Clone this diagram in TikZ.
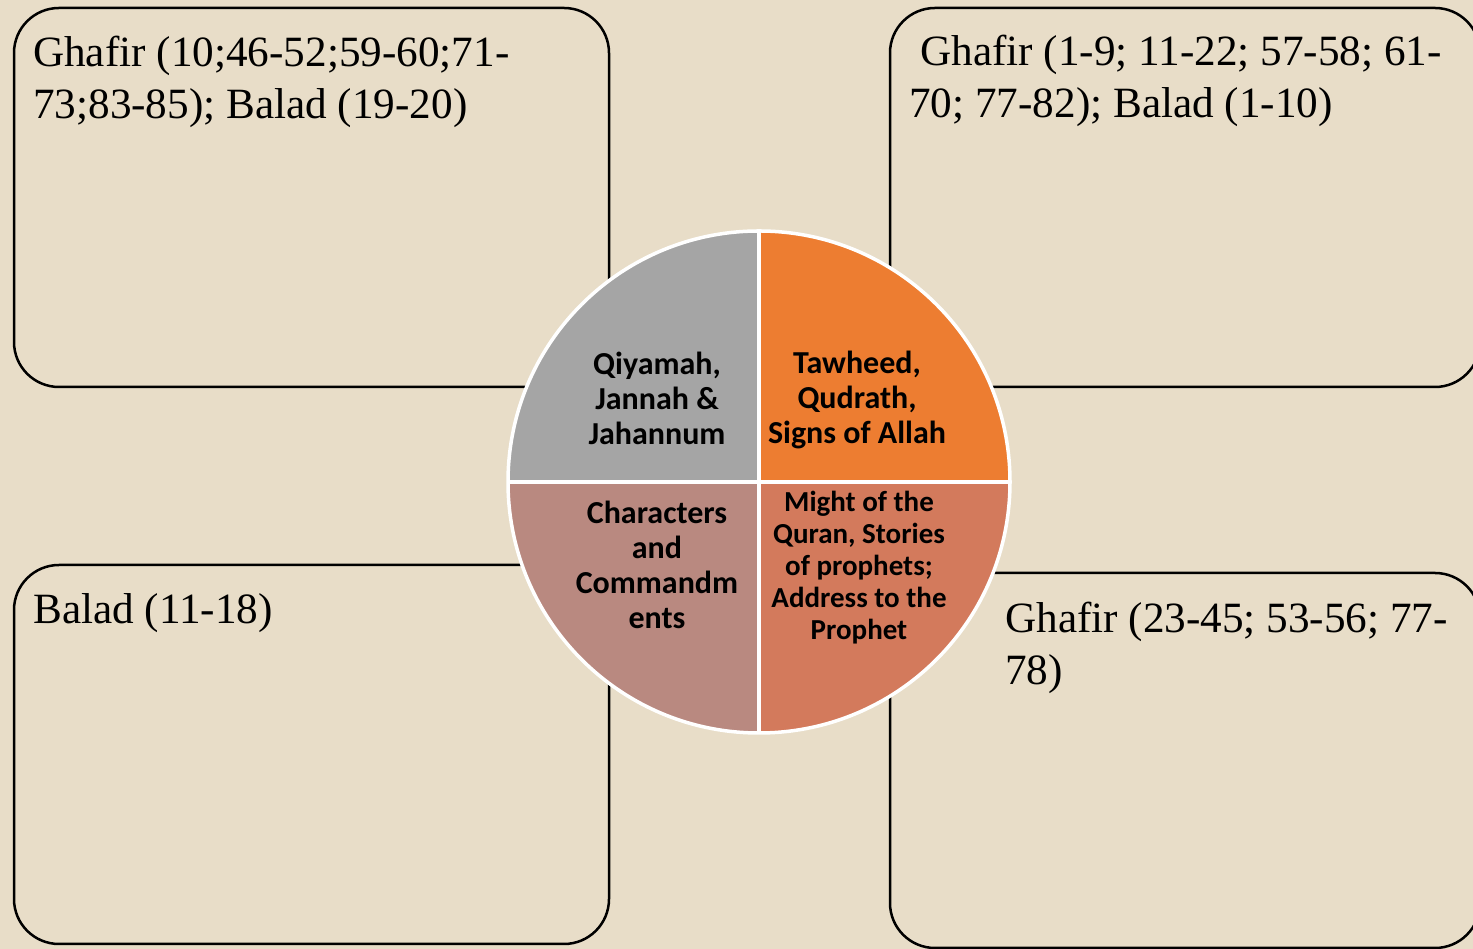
\documentclass[tikz,border=0pt]{standalone}
\usepackage{fontspec}
\setmainfont{Liberation Serif}
\newfontfamily\quadfont{Carlito}
\definecolor{parch}{HTML}{E8DDC8}
\definecolor{qgrey}{HTML}{A5A5A5}
\definecolor{qorange}{HTML}{ED7D31}
\definecolor{qrose}{HTML}{B98980}
\definecolor{qrust}{HTML}{D37A5C}
\begin{document}
\begin{tikzpicture}[x=1pt,y=1pt,
  box/.style={draw=black, line width=2.5pt, rounded corners=45pt, inner sep=0pt, outer sep=0pt, anchor=center},
  note/.style={font=\fontsize{43.2}{52}\selectfont, align=left, anchor=north west, inner sep=0pt, text=black},
  quad/.style={font=\quadfont\bfseries\fontsize{32}{35}\selectfont, align=center, inner sep=0pt, text=black},
  quadsmall/.style={font=\quadfont\bfseries\fontsize{29}{32}\selectfont, align=center, inner sep=0pt, text=black}]
\fill[parch] (0,0) rectangle (1473,949);
\useasboundingbox (0,0) rectangle (1473,949);
\clip (0,0) rectangle (1473,949);

% outer boxes
\node[box, minimum width=595pt, minimum height=379pt] (boxTL) at (311.5,751.5) {};
\node[box, minimum width=590pt, minimum height=379pt] (boxTR) at (1185,751.5) {};
\node[box, minimum width=595pt, minimum height=379pt] (boxBL) at (311.5,194.5) {};
\node[box, minimum width=590pt, minimum height=375pt] (boxBR) at (1185,188.5) {};

% box texts
\node[note] (txtTL) at (33,913) {Ghafir (10;46-52;59-60;71-\\73;83-85); Balad (19-20)};
\node[note] (txtTR) at (909,914) {\hspace*{11pt}Ghafir (1-9; 11-22; 57-58; 61-\\70; 77-82); Balad (1-10)};
\node[note] (txtBL) at (33,356) {Balad (11-18)};
\node[note] (txtBR) at (1005,347) {Ghafir (23-45; 53-56; 77-\\78)};

% central wheel
\coordinate (c) at (759,467);
\fill[qgrey]   (c) -- ++(-251,0) arc[start angle=180, end angle=90,  radius=251] -- cycle;
\fill[qorange] (c) -- ++(0,251)  arc[start angle=90,  end angle=0,   radius=251] -- cycle;
\fill[qrust]   (c) -- ++(251,0)  arc[start angle=0,   end angle=-90, radius=251] -- cycle;
\fill[qrose]   (c) -- ++(0,-251) arc[start angle=-90, end angle=-180,radius=251] -- cycle;
\node[circle, draw=white, line width=3.5pt, minimum size=502pt, inner sep=0pt, outer sep=0pt] (wheel) at (c) {};
\draw[white, line width=4.5pt] (wheel.north) -- (wheel.south);
\draw[white, line width=4.5pt] (wheel.west) -- (wheel.east);

% quadrant texts
\node[quad] (qTL) at (657,551) {Qiyamah,\\Jannah \&\\Jahannum};
\node[quad] (qTR) at (857,549) {Tawheed,\\Qudrath,\\Signs of Allah};
\node[quad] (qBL) at (657,384) {Characters\\and\\Commandm\\ents};
\node[quadsmall] (qBR) at (859,381.5) {Might of the\\Quran, Stories\\of prophets;\\Address to the\\Prophet};
\end{tikzpicture}
\end{document}
